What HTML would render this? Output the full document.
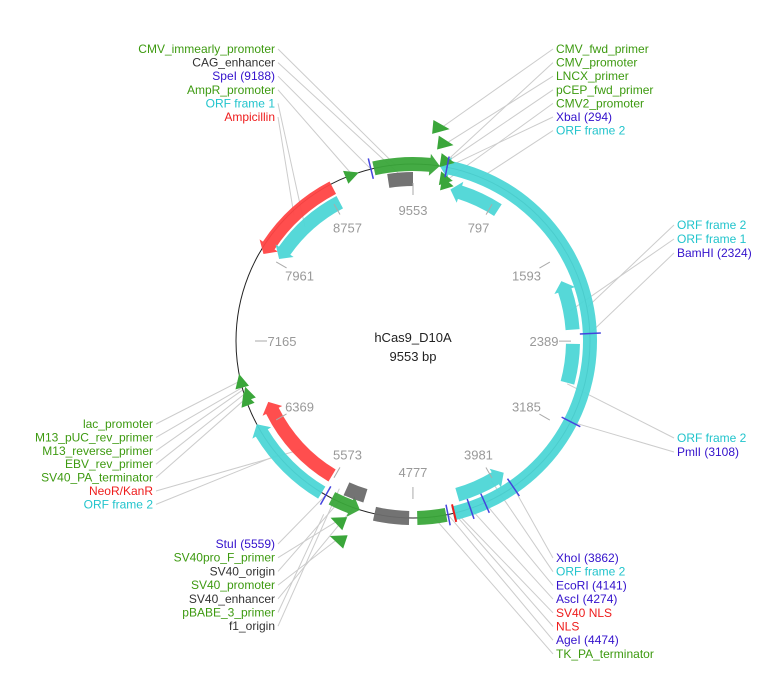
<!DOCTYPE html>
<html><head><meta charset="utf-8"><style>
body{margin:0;background:#fff;}
svg{display:block;font-family:"Liberation Sans",Arial,sans-serif;}
</style></head><body>
<svg id="map" width="779" height="681" viewBox="0 0 779 681" xmlns="http://www.w3.org/2000/svg">
<g id="leaders"></g>
<circle cx="413" cy="341" r="177" fill="none" stroke="#222" stroke-width="1"/>
<g id="feats"></g>
<g id="ticks"></g>
<g id="sites"></g>
<g id="labels"></g>
<text x="413" y="342" text-anchor="middle" font-size="13" fill="#222">hCas9_D10A</text>
<text x="413" y="361" text-anchor="middle" font-size="13" fill="#222">9553 bp</text>
</svg>
<script>
const total = 9553;
const tickValues = [797,1593,2389,3185,3981,4777,5573,6369,7165,7961,8757,9553];
// features: start, end, radius, color, direction(1 fwd head at end, -1 head at start, 0 none)
const featStart = [9214, 231, 5600, 5240, 4810, 4490, 7966, 368, 1805, 2415, 3860, 5600, 8000, 9320, 5230];
const featEnd   = [231, 4430, 6420, 5500, 5110, 4740, 8820, 875, 2280, 2790, 4350, 6560, 8815, 9553, 5420];
const featRad   = [177, 177, 177, 177, 177, 177, 173, 156, 160, 160, 160, 157, 157, 162, 162];
const featColor = ['#3aa63a','#4dd6d6','#4dd6d6','#3aa63a','#6b6b6b','#3aa63a','#ff4444','#4dd6d6','#4dd6d6','#4dd6d6','#4dd6d6','#ff4444','#4dd6d6','#6b6b6b','#6b6b6b'];
const featDir   = [1,-1,1,-1,0,0,-1,-1,-1,0,-1,1,-1,0,0];
const triPos = [9020, 6820, 6660, 6700, 200, 250, 290, 310, 330, 5380, 5330];
const triRad = [177, 177, 177, 174, 215, 200, 183, 165, 160, 195, 212];
const sitePos = [9188, 294, 2324, 3108, 3862, 4141, 4274, 4474, 5559];
const siteColor = ['#4444dd','#4444dd','#4444dd','#4444dd','#4444dd','#4444dd','#4444dd','#4444dd','#4444dd'];
const labelText = ['CMV_immearly_promoter','CAG_enhancer','SpeI (9188)','AmpR_promoter','ORF frame 1','Ampicillin',
 'CMV_fwd_primer','CMV_promoter','LNCX_primer','pCEP_fwd_primer','CMV2_promoter','XbaI (294)','ORF frame 2',
 'ORF frame 2','ORF frame 1','BamHI (2324)','ORF frame 2','PmlI (3108)',
 'lac_promoter','M13_pUC_rev_primer','M13_reverse_primer','EBV_rev_primer','SV40_PA_terminator','NeoR/KanR','ORF frame 2',
 'StuI (5559)','SV40pro_F_primer','SV40_origin','SV40_promoter','SV40_enhancer','pBABE_3_primer','f1_origin',
 'XhoI (3862)','ORF frame 2','EcoRI (4141)','AscI (4274)','SV40 NLS','NLS','AgeI (4474)','TK_PA_terminator'];
const labelColor = ['g','k','b','g','c','r','g','g','g','g','g','b','c','c','c','b','c','b','g','g','g','g','g','r','c','b','g','k','g','k','g','k','b','c','b','b','r','r','b','g'];
const labelTarget = [9400,9450,9188,9020,8400,8400,200,240,250,290,320,294,600,2100,2100,2324,2800,3108,6820,6760,6740,6700,6660,6000,6100,5559,5380,5400,5330,5300,5500,5480,3862,4000,4141,4274,4400,4420,4474,4600];
const labelTargetR = [177,165,177,177,157,173,215,177,200,183,165,177,177,177,160,177,160,177,177,177,177,177,177,157,177,177,195,165,212,177,195,165,177,160,177,177,177,177,177,177];

const cmap={g:'#3d9a10',k:'#333333',b:'#3311cc',c:'#22c4cc',r:'#ee1c1c'};
const CX=413, CY=341, NS='http://www.w3.org/2000/svg';
function ang(p){return p/total*2*Math.PI;}
function pt(p,r){const a=ang(p);return [CX+r*Math.sin(a), CY-r*Math.cos(a)];}
function mk(tag,attrs,parent){const e=document.createElementNS(NS,tag);for(const k in attrs)e.setAttribute(k,attrs[k]);parent.appendChild(e);return e;}
const W=14, HEAD=10/177*total/(2*Math.PI);

// ticks
const tg=document.getElementById('ticks');
tickValues.forEach((v,i)=>{
  const a=pt(v,146), b=pt(v,158), l=pt(v,131);
  const ln=mk('line',{x1:a[0],y1:a[1],x2:b[0],y2:b[1],stroke:'#aaa','stroke-width':1},tg);
  
  
  const t=mk('text',{x:l[0],y:l[1]+5,'text-anchor':'middle','font-size':13,fill:'#999'},tg);
  t.textContent=v;
  
  
});

// features
const fg=document.getElementById('feats');
function arcPath(s,e,r,dir){
  if(e<s) e+=total;
  const rin=r-W/2, rout=r+W/2;
  const hl=Math.min(HEAD*177/r,(e-s)*0.5);
  let s2=s,e2=e;
  if(dir===1)e2=e-hl; if(dir===-1)s2=s+hl;
  const large=((e2-s2)/total>0.5)?1:0;
  const P=(p,rr)=>pt(p,rr).join(',');
  let d='M'+P(s2,rout)+' A'+rout+','+rout+' 0 '+large+' 1 '+P(e2,rout);
  if(dir===1){d+=' L'+P(e2,rout+4)+' L'+P(e,r)+' L'+P(e2,rin-4);}
  d+=' L'+P(e2,rin)+' A'+rin+','+rin+' 0 '+large+' 0 '+P(s2,rin);
  if(dir===-1){d+=' L'+P(s2,rin-4)+' L'+P(s,r)+' L'+P(s2,rout+4);}
  return d+' Z';
}
featStart.forEach((s,i)=>{
  const p=mk('path',{d:arcPath(s,featEnd[i],featRad[i],featDir[i]),fill:featColor[i],'fill-opacity':0.95},fg);
  
  
});
triPos.forEach((v,i)=>{
  const r=triRad[i];
  const a=pt(v-60,r-7),b=pt(v-60,r+7),c=pt(v+60,r);
  const p=mk('path',{d:'M'+a+' L'+b+' L'+c+' Z',fill:'#3aa63a'},fg);
  
  
});
// sites
const sg=document.getElementById('sites');
sitePos.forEach((v,i)=>{
  const a=pt(v,167), b=pt(v,188);
  const l=mk('line',{x1:a[0],y1:a[1],x2:b[0],y2:b[1],stroke:siteColor[i],'stroke-width':1.5},sg);
  
  
});
{const a=pt(4420,168),b=pt(4420,186);const l=mk('line',{x1:a[0],y1:a[1],x2:b[0],y2:b[1],stroke:'#ee1c1c','stroke-width':2},sg);

}

// labels
const groups=[
 {from:0,to:5,x:275,y0:49,dy:13.6,anchor:'end'},
 {from:6,to:12,x:556,y0:49,dy:13.6,anchor:'start'},
 {from:13,to:15,x:677,y0:225,dy:14,anchor:'start'},
 {from:16,to:17,x:677,y0:438,dy:14,anchor:'start'},
 {from:18,to:24,x:153,y0:424,dy:13.4,anchor:'end'},
 {from:25,to:31,x:275,y0:544,dy:13.7,anchor:'end'},
 {from:32,to:39,x:556,y0:558,dy:13.7,anchor:'start'}];
const lg=document.getElementById('labels'), ld=document.getElementById('leaders');
groups.forEach(g=>{
  for(let i=g.from;i<=g.to;i++){
    const y=g.y0+(i-g.from)*g.dy;
    const t=mk('text',{x:g.x,y:y+4,'text-anchor':g.anchor,'font-size':12,fill:cmap[labelColor[i]]},lg);
    t.textContent=labelText[i];
    
    
    const tp=pt(labelTarget[i],labelTargetR[i]);
    const lx=g.anchor==='end'?g.x+3:g.x-3;
    const l=mk('line',{x1:lx,y1:y,x2:tp[0],y2:tp[1],stroke:'#ccc','stroke-width':1},ld);
    
    
  }
});
</script>
</body></html>
